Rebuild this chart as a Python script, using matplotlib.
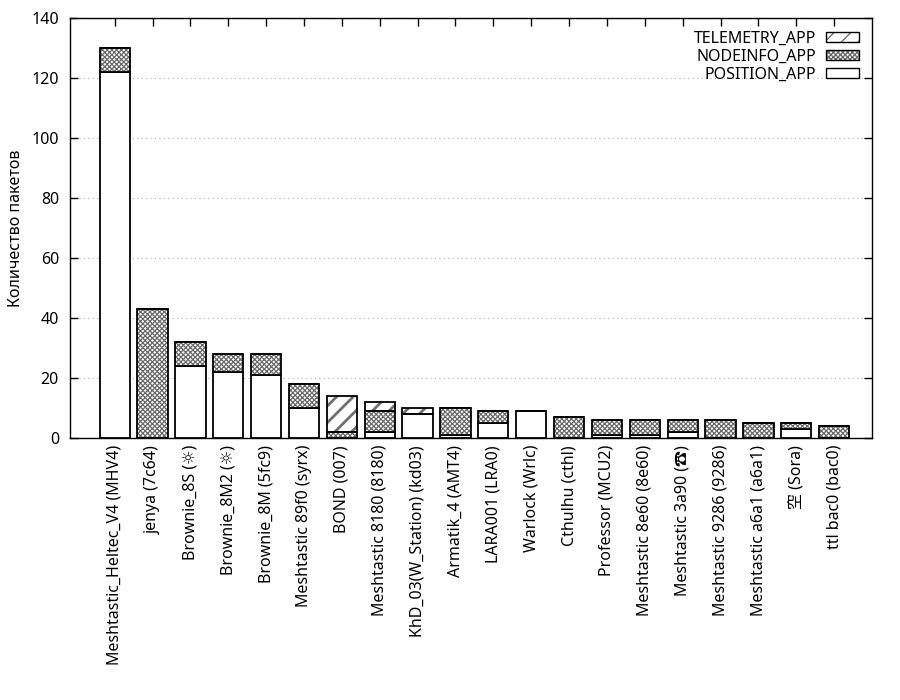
import matplotlib
matplotlib.use("Agg")
import matplotlib.pyplot as plt
from matplotlib.patches import Patch
from matplotlib.legend_handler import HandlerTuple
import numpy as np

plt.rcParams['font.family'] = ['Noto Sans', 'Noto Sans CJK JP', 'DejaVu Sans']
plt.rcParams['hatch.linewidth'] = 1.0

categories = [
    "Meshtastic_Heltec_V4 (MHV4)", "jenya (7c64)", "Brownie_8S (☼)", "Brownie_8M2 (☼)",
    "Brownie_8M (5fc9)", "Meshtastic 89f0 (syrx)", "BOND (007)", "Meshtastic 8180 (8180)",
    "KhD_03(W_Station) (kd03)", "Armatik_4 (AMT4)", "LARA001 (LRA0)", "Warlock (Wrlc)",
    "Cthulhu (cthl)", "Professor (MCU2)", "Meshtastic 8e60 (8e60)", "Meshtastic 3a90 (☎)",
    "Meshtastic 9286 (9286)", "Meshtastic a6a1 (a6a1)", "空 (Sora)", "ttl bac0 (bac0)",
]
position_app = [122, 0, 24, 22, 21, 10, 0, 2, 8, 1, 5, 9, 0, 1, 1, 2, 0, 0, 3, 0]
nodeinfo_app = [8, 43, 8, 6, 7, 8, 2, 7, 0, 9, 4, 0, 7, 5, 5, 4, 6, 5, 2, 4]
telemetry_app = [0, 0, 0, 0, 0, 0, 12, 3, 2, 0, 0, 0, 0, 0, 0, 0, 0, 0, 0, 0]
yticks = [0, 20, 40, 60, 80, 100, 120, 140]

FS = 11.5
NODE_HATCH = 'xxxxxxx'
TELE_HATCH = '//'
NODE_HC = '#6a6a6a'
TELE_HC = '#707070'
NODE_HLW = 0.9
TELE_HLW = 2.0

fig = plt.figure(figsize=(9, 7), dpi=100)
ax = fig.add_axes([70/900, 1-438/700, (872-70)/900, (438-18)/700])

x = np.arange(len(categories))
pos = np.array(position_app)
node = np.array(nodeinfo_app)
tele = np.array(telemetry_app)
w = 0.8

ax.bar(x, pos, w, color='white', edgecolor='black', linewidth=1.3, zorder=2)
with plt.rc_context({'hatch.linewidth': NODE_HLW}):
    ax.bar(x, node, w, bottom=pos, color='white', edgecolor=NODE_HC, hatch=NODE_HATCH, linewidth=0, zorder=2)
ax.bar(x, node, w, bottom=pos, color='none', edgecolor='black', linewidth=1.3, zorder=3)
with plt.rc_context({'hatch.linewidth': TELE_HLW}):
    ax.bar(x, tele, w, bottom=pos+node, color='white', edgecolor=TELE_HC, hatch=TELE_HATCH, linewidth=0, zorder=2)
ax.bar(x, tele, w, bottom=pos+node, color='none', edgecolor='black', linewidth=1.3, zorder=3)

ax.set_xlim(-1.18, 20.0)
ax.set_ylim(0, 140)
ax.set_yticks(yticks)
ax.set_xticks(x)
ax.set_xticklabels(categories, rotation=90, fontsize=FS)
ax.tick_params(axis='y', labelsize=FS, pad=8)
ax.tick_params(axis='x', pad=5)
ax.tick_params(direction='in', top=True, right=True, length=6, width=1)
ax.yaxis.grid(True, color='#b0b0b0', linestyle=(0, (1, 3)), linewidth=0.8)
ax.set_axisbelow(True)
for s in ax.spines.values():
    s.set_linewidth(1)
ax.set_ylabel("Количество пакетов", fontsize=FS, labelpad=5)

with plt.rc_context({'hatch.linewidth': TELE_HLW}):
    tele_h = Patch(facecolor='white', edgecolor=TELE_HC, hatch=TELE_HATCH, linewidth=0)
with plt.rc_context({'hatch.linewidth': NODE_HLW}):
    node_h = Patch(facecolor='white', edgecolor=NODE_HC, hatch=NODE_HATCH, linewidth=0)
outline = lambda: Patch(facecolor='none', edgecolor='black', linewidth=1.0)
handles = [(tele_h, outline()), (node_h, outline()),
           (Patch(facecolor='white', edgecolor='black', linewidth=1.0),)]
labels = ["TELEMETRY_APP", "NODEINFO_APP", "POSITION_APP"]
ax.legend(handles, labels, loc='upper right', frameon=False, markerfirst=False,
          fontsize=FS, handlelength=2.1, handleheight=0.6, labelspacing=0.12,
          handletextpad=0.6, borderaxespad=0.4,
          handler_map={tuple: HandlerTuple(ndivide=1, pad=0)})

fig.savefig("out.png", dpi=100)
